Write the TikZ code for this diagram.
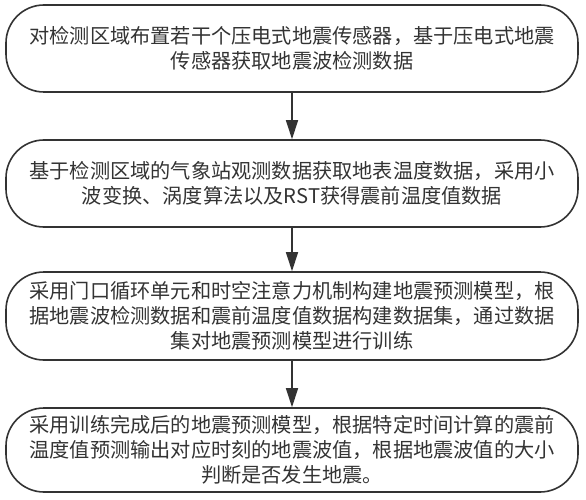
\documentclass[tikz,border=0pt]{standalone}
\usepackage{fontspec}
\setmainfont{Noto Sans CJK SC}
\usetikzlibrary{arrows.meta}
\definecolor{ink}{HTML}{333333}
\begin{document}
\begin{tikzpicture}[x=1pt,y=-1pt,
  stepbox/.style={draw=ink,line width=1.6pt,rounded corners=38pt,minimum width=572pt,
    align=center,text=ink,font=\fontsize{20.2}{25}\selectfont,inner sep=0pt},
  flow/.style={draw=ink,line width=1.6pt,-{Triangle[length=19pt,width=12pt]}}]
\useasboundingbox (0,0) rectangle (586,500);
\node[stepbox,minimum height=87pt] (s1) at (292,48.5) {对检测区域布置若干个压电式地震传感器，基于压电式地震\\传感器获取地震波检测数据};
\node[stepbox,minimum height=87pt] (s2) at (292,183.5) {基于检测区域的气象站观测数据获取地表温度数据，采用小\\波变换、涡度算法以及RST获得震前温度值数据};
\node[stepbox,minimum height=88pt] (s3) at (292,316) {采用门口循环单元和时空注意力机制构建地震预测模型，根\\据地震波检测数据和震前温度值数据构建数据集，通过数据\\集对地震预测模型进行训练};
\node[stepbox,minimum height=84pt] (s4) at (292,450) {采用训练完成后的地震预测模型，根据特定时间计算的震前\\温度值预测输出对应时刻的地震波值，根据地震波值的大小\\判断是否发生地震。};
\draw[flow] (s1) -- (s2);
\draw[flow] (s2) -- (s3);
\draw[flow] (s3) -- (s4);
\end{tikzpicture}
\end{document}
